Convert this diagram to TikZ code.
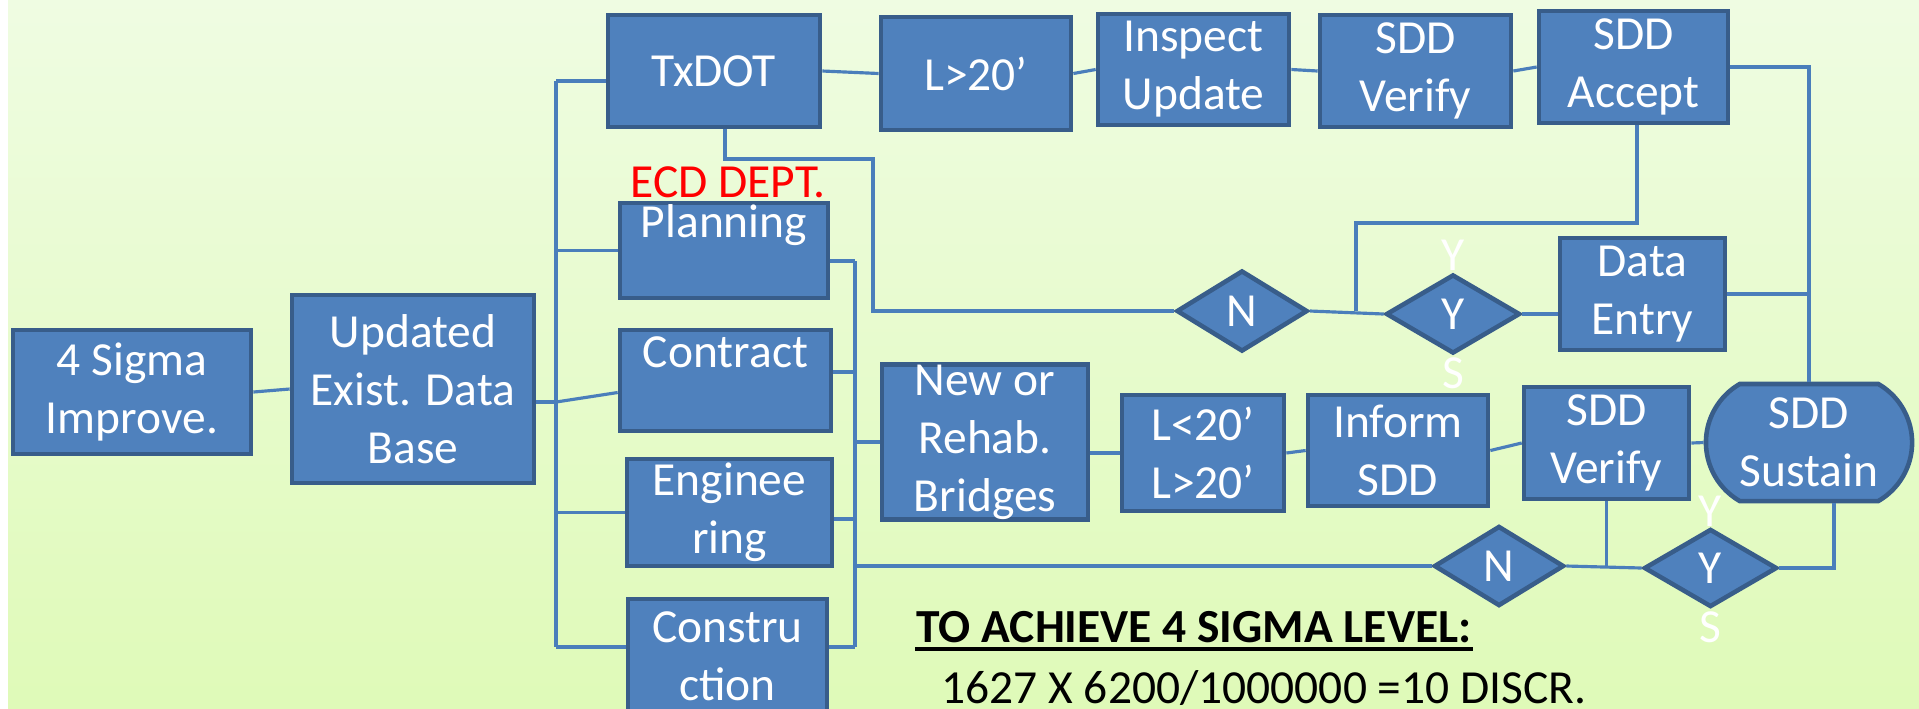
\documentclass[tikz,border=0pt]{standalone}
\usepackage{fontspec}
\setmainfont{Carlito}
\usetikzlibrary{shapes.geometric, shapes.misc}
\definecolor{boxblue}{HTML}{4F81BD}
\definecolor{boxedge}{HTML}{385D8A}
\definecolor{wire}{HTML}{4A7EBB}
\definecolor{bgtop}{HTML}{EFFCE2}
\definecolor{bgbottom}{HTML}{DFFAB8}
\def\boxfont{\fontsize{13.5}{16.5}\selectfont}

\begin{document}
\begin{tikzpicture}[x=0.01cm, y=-0.01cm, draw=wire, line width=0.9pt]
    \tikzstyle{block}=[rectangle, fill=boxblue, draw=boxedge, line width=1.3pt, text=white, align=center, inner sep=0pt, font=\boxfont]
    \tikzstyle{toptext}=[text height=0.33cm, text depth=0.59cm]
    \tikzstyle{decision}=[block, diamond]
    \tikzstyle{terminal}=[block, rounded rectangle, rounded rectangle arc length=120]
    \tikzstyle{yesletter}=[text=white, font=\boxfont, inner sep=0pt]

    % slide background
    \useasboundingbox (0,0) rectangle (1919,708);
    \fill[white] (0,0) rectangle (1919,708);
    \shade[top color=bgtop, bottom color=bgbottom] (8,0) rectangle (1919,708);

    \node[block, minimum width=2.38cm, minimum height=1.24cm] (sigma) at (132,392) {4 Sigma\\Improve.};
    \node[block, minimum width=2.42cm, minimum height=1.88cm] (updated) at (413,389) {Updated\\Exist. Data\\Base};

    % departments
    \node[block, minimum width=2.12cm, minimum height=1.12cm] (txdot) at (714,71) {TxDOT};
    \node[text=red, font=\boxfont, inner sep=0pt, anchor=base] (ecd) at (728,197) {ECD DEPT.};
    \node[block, toptext, minimum width=2.08cm, minimum height=0.95cm] (planning) at (724,250.5) {Planning};
    \node[block, toptext, minimum width=2.11cm, minimum height=1.01cm] (contract) at (725.5,380.5) {Contract};
    \node[block, minimum width=2.05cm, minimum height=1.07cm] (engineering) at (729.5,512.5) {Enginee\\ring};
    \node[block, minimum width=1.99cm, minimum height=1.14cm] (construction) at (727.5,656) {Constru\\ction};

    % TxDOT path
    \node[block, minimum width=1.90cm, minimum height=1.13cm] (lgt) at (976,73.5) {L>20'};
    \node[block, minimum width=1.91cm, minimum height=1.11cm] (inspect) at (1193.5,69.5) {Inspect\\Update};
    \node[block, minimum width=1.91cm, minimum height=1.12cm] (verify1) at (1415.5,71) {SDD\\Verify};
    \node[block, minimum width=1.89cm, minimum height=1.12cm] (accept) at (1633.5,67) {SDD\\Accept};

    \node[yesletter] (yes1-y) at (1453,255) {Y};
    \node[yesletter] (yes1-s) at (1453,373) {S};
    \node[decision, minimum width=1.31cm, minimum height=0.81cm] (ndia1) at (1242,311) {N};
    \node[decision, minimum width=1.34cm, minimum height=0.79cm] (ydia1) at (1453,314) {Y};
    \node[block, minimum width=1.65cm, minimum height=1.12cm] (dataentry) at (1642.5,294) {Data\\Entry};

    % ECD path
    \node[block, minimum width=2.06cm, minimum height=1.54cm] (newrehab) at (985,442) {New or\\Rehab.\\Bridges};
    \node[block, minimum width=1.62cm, minimum height=1.16cm] (lt20) at (1203,453) {L<20'\\L>20'};
    \node[block, minimum width=1.80cm, minimum height=1.11cm] (inform) at (1398,450.5) {Inform\\SDD};
    \node[block, minimum width=1.65cm, minimum height=1.12cm] (verify2) at (1606.5,443) {SDD\\Verify};
    \node[terminal, minimum width=2.06cm, minimum height=1.17cm] (sustain) at (1809,442.5) {SDD\\Sustain};

    \node[yesletter] (yes2-y) at (1710,511) {Y};
    \node[yesletter] (yes2-s) at (1710,627) {S};
    \node[decision, minimum width=1.30cm, minimum height=0.80cm] (ndia2) at (1499,566) {N};
    \node[decision, minimum width=1.33cm, minimum height=0.78cm] (ydia2) at (1710.5,568) {Y};

    \node[font=\bfseries\boxfont, anchor=base west, inner sep=0pt] (goal) at (915,642) {TO ACHIEVE 4 SIGMA LEVEL:};
    \draw[black, line width=1.2pt] ([yshift=-0.07cm]goal.base west) -- ([yshift=-0.07cm]goal.base east);
    \node[font=\boxfont, anchor=base west, inner sep=0pt] (calc) at (940,703) {1627 X 6200/1000000 =10 DISCR.};

    % left trunk
    \coordinate (trunk-top) at (556,81);
    \coordinate (trunk-bot) at (556,647);
    \draw (sigma.east) -- (updated.west);
    \draw ([yshift=-0.13cm]updated.east) -- ([yshift=-0.13cm]updated.east -| trunk-top);
    \draw (trunk-top) -- (trunk-bot);
    \draw (trunk-top) -- (trunk-top -| txdot.west);
    \draw (planning.west) -- (planning.west -| trunk-top);
    \draw ([yshift=-0.12cm]contract.west) -- ([yshift=-0.13cm]updated.east -| trunk-top);
    \draw (engineering.west) -- (engineering.west -| trunk-top);
    \draw (trunk-bot -| construction.west) -- (trunk-bot);

    % right bus
    \coordinate (bus-top) at (855,261);
    \coordinate (bus-bot) at (855,647);
    \draw (bus-top) -- (bus-bot);
    \draw (bus-top -| planning.east) -- (bus-top);
    \draw ([yshift=0.085cm]contract.east) -- ([yshift=0.085cm]contract.east -| bus-top);
    \draw ([yshift=-0.065cm]engineering.east) -- ([yshift=-0.065cm]engineering.east -| bus-top);
    \draw (bus-bot -| construction.east) -- (bus-bot);
    \draw (newrehab.west) -- (newrehab.west -| bus-top);
    \draw (ndia2.west) -- (ndia2.west -| bus-top);

    % upper row
    \coordinate (loop-a) at (873,159);
    \draw ([xshift=0.11cm]txdot.south) |- (loop-a) |- (ndia1.west);
    \draw (txdot.east) -- (lgt.west);
    \draw (lgt.east) -- (inspect.west);
    \draw (inspect.east) -- (verify1.west);
    \draw (verify1.east) -- (accept.west);
    \draw (accept.east) -| (sustain.north);
    \coordinate (loop-b) at (1356,223);
    \draw ([xshift=0.035cm]accept.south) |- (loop-b) -- (loop-b |- ndia1.east);
    \draw (ndia1.east) -- (ydia1.west);
    \draw (ydia1.east) -- (ydia1.east -| dataentry.west);
    \draw (dataentry.east) -- (dataentry.east -| sustain.north);

    % lower row
    \draw (lt20.west -| newrehab.east) -- (lt20.west);
    \draw (lt20.east) -- (inform.west);
    \draw (inform.east) -- (verify2.west);
    \draw (verify2.east) -- (sustain.west);
    \draw (verify2.south) -- (verify2.south |- ndia2.east);
    \draw (ndia2.east) -- (ydia2.west);
    \draw (ydia2.east) -| ([xshift=0.25cm]sustain.south);
\end{tikzpicture}
\end{document}
